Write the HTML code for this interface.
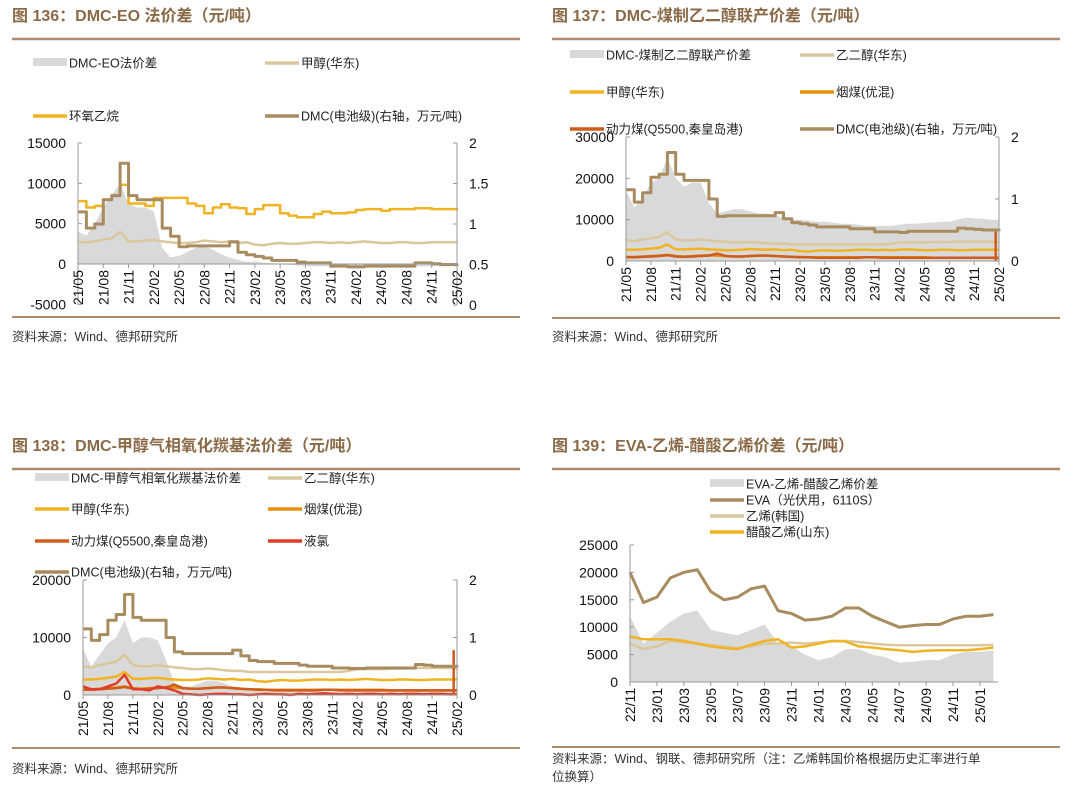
<!DOCTYPE html>
<html><head><meta charset="utf-8"><style>
body{margin:0;background:#fff}
svg{display:block}
text{font-family:"Liberation Sans","Noto Sans CJK SC",sans-serif}
.t{font-size:16px;font-weight:bold;fill:#8b6a48}
.lg{font-size:12.5px;fill:#222}
.tk{font-size:14px;fill:#111}
.src{font-size:12.5px;fill:#333}
</style></head><body>
<svg id="s" width="1080" height="793" viewBox="0 0 1080 793" xmlns="http://www.w3.org/2000/svg"></svg>
<script>
// ===== Data =====
const monthLabels = ["21/05","21/08","21/11","22/02","22/05","22/08","22/11","23/02","23/05","23/08","23/11","24/02","24/05","24/08","24/11","25/02"];
const evaLabels = ["22/11","23/01","23/03","23/05","23/07","23/09","23/11","24/01","24/03","24/05","24/07","24/09","24/11","25/01"];
// Chart 136 (monthly 21/05..25/02)
const c1Spread = [4000,3500,5000,7000,8500,10000,7500,7000,7000,6500,2000,800,1000,1500,2000,2200,1800,1200,800,500,300,300,200,100,0,-100,-200,-200,-300,-300,-300,-300,-300,-300,-300,-300,-300,-300,-300,-300,-300,-300,-300,-300,-300,-300];
const c1EO = [7800,7000,7200,8000,8500,9800,7500,7500,7200,8200,8200,8200,8200,7500,7200,6300,7000,7400,7000,6900,6200,6800,7300,7300,6300,6000,5800,5800,6200,6500,6300,6300,6400,6700,6800,6800,6600,6800,6800,6800,6900,6900,6800,6800,6800,6900];
const c1Methanol = [2700,2700,2800,3000,3200,4000,2800,2800,2900,3000,2800,2700,2600,2600,2700,2900,2800,2700,2800,2600,2700,2400,2300,2500,2600,2500,2500,2600,2700,2700,2600,2700,2600,2700,2800,2700,2600,2600,2700,2700,2600,2600,2700,2700,2700,2700];
const c1DMC = [1.15,0.95,1.0,1.3,1.35,1.75,1.35,1.3,1.3,1.3,0.95,0.85,0.72,0.73,0.73,0.73,0.73,0.73,0.78,0.65,0.62,0.6,0.58,0.55,0.55,0.55,0.53,0.52,0.52,0.52,0.48,0.48,0.47,0.47,0.48,0.48,0.48,0.48,0.48,0.48,0.52,0.52,0.51,0.5,0.5,0.48];
// Chart 137
const c2Spread = [17000,13000,15000,19000,20000,25000,20000,18000,19000,19000,14000,11500,12000,12500,12500,12000,11500,11500,11000,10500,10000,10000,9800,9500,9500,9300,9000,9000,8800,8500,8500,8500,8500,8800,9000,9000,9200,9300,9500,9500,10000,10500,10300,10200,10000,10000];
const c2DMC = [1.15,0.95,1.1,1.35,1.4,1.75,1.4,1.3,1.3,1.3,1.0,0.72,0.73,0.73,0.73,0.73,0.73,0.73,0.78,0.68,0.62,0.6,0.58,0.55,0.55,0.55,0.55,0.52,0.52,0.52,0.47,0.47,0.47,0.46,0.48,0.48,0.48,0.48,0.48,0.48,0.53,0.52,0.51,0.5,0.5,0.48];
const c2EG = [5000,4800,5200,5500,5800,7000,5200,5000,5000,5200,5000,4800,4700,4500,4500,4600,4500,4300,4200,4200,4000,4000,4000,4000,4000,4000,4000,4000,4000,4000,4000,4000,4200,4500,4500,4500,4500,4600,4600,4600,4700,4700,4700,4700,4700,4600];
const c2Methanol = [2700,2700,2800,3000,3200,4000,2800,2800,2900,3000,2800,2700,2600,2600,2700,2900,2800,2700,2800,2600,2700,2400,2300,2500,2600,2500,2500,2600,2700,2700,2600,2700,2600,2700,2800,2700,2600,2600,2700,2700,2600,2600,2700,2700,2700,2700];
const c2YanCoal = [1000,1000,1100,1200,1300,1500,1200,1100,1200,1300,1400,1300,1200,1100,1100,1200,1300,1300,1200,1100,1000,1000,900,900,900,900,900,900,900,900,900,900,900,900,900,900,900,800,800,800,800,800,800,800,800,800];
const c2Coal = [900,900,1000,1100,1200,1400,1100,1000,1100,1200,1300,1800,1200,1100,1100,1200,1300,1300,1200,1100,1000,900,900,800,800,800,800,800,800,900,900,800,800,800,800,800,800,800,800,800,800,800,800,800,800,800];
const c2SpikeMonth = [44.6];
const c2SpikeValue = [7500];
// Chart 138
const c3Spread = [8000,5000,7000,9000,10000,13000,9000,10000,10000,9500,6000,2000,1500,1500,2000,2500,2500,2000,1500,1200,1000,1000,800,800,700,700,600,600,600,600,600,600,600,700,700,700,800,800,800,900,900,1000,1000,1000,1000,1000];
const c3DMC = [1.15,0.95,1.05,1.3,1.4,1.75,1.35,1.3,1.3,1.3,1.0,0.75,0.72,0.72,0.72,0.72,0.72,0.72,0.78,0.68,0.6,0.58,0.58,0.55,0.55,0.55,0.52,0.5,0.5,0.5,0.47,0.47,0.46,0.46,0.47,0.47,0.47,0.47,0.47,0.47,0.53,0.52,0.5,0.5,0.5,0.48];
const c3EG = c2EG;
const c3Methanol = c2Methanol;
const c3YanCoal = c2YanCoal;
const c3Coal = c2Coal;
const c3Chlorine = [1500,1000,1000,1500,2000,3500,1000,1000,800,1500,1200,800,200,100,0,100,200,200,100,100,0,100,200,100,100,0,200,100,200,300,200,100,200,100,200,200,100,200,100,200,200,100,200,200,100,100];
const c3SpikeMonth = [44.6];
const c3SpikeValue = [7800];
// Chart 139 (monthly 22/11..25/02)
const c4Spread = [12000,7000,9000,11000,12500,13000,9500,9000,8500,9500,10500,7000,6500,5000,4000,4500,6000,6000,5000,4500,3500,3700,4000,4000,5000,5500,5500,5800];
const c4EVA = [20000,14500,15500,19000,20000,20500,16500,15000,15500,17000,17500,13000,12500,11300,11500,12000,13500,13500,12000,11000,10000,10300,10500,10500,11500,12000,12000,12300];
const c4Ethylene = [7000,6000,6500,7500,7200,7000,6800,6500,6200,6500,7000,7000,7200,7000,7200,7400,7500,7300,7000,6800,6700,6700,6700,6700,6700,6700,6700,6800];
const c4VAM = [8300,7800,7800,7800,7500,7000,6500,6200,6000,6800,7500,7800,6300,6500,7000,7500,7400,6500,6300,6000,5800,5500,5700,5800,5800,5800,6000,6300];

const NS="http://www.w3.org/2000/svg";
const S=document.getElementById('s');
function el(tag,attrs,parent){const e=document.createElementNS(NS,tag);for(const k in attrs)e.setAttribute(k,attrs[k]);(parent||S).appendChild(e);return e;}
function txt(x,y,s,cls,parent,anchor){const e=el('text',{x:x,y:y,class:cls},parent);if(anchor)e.setAttribute('text-anchor',anchor);e.textContent=s;return e;}
const GRAY='#d9d9d9',BROWN='#a88c5f',BEIGE='#d9c89e',YEL='#f0b323',ORG='#e8900c',RED2='#cf5b1c',RED='#e03c28';

function panel(name,x0,y0,title){
  const g=el('g',{});
  
  
  const t=txt(x0,y0,title,'t',g);
  
  
  const r=el('line',{x1:x0,x2:x0+508,y1:y0+18,y2:y0+18,stroke:'#b08a6a','stroke-width':2.5},g);
  
  
  return g;
}
function legend(g,x,y,label,color,isArea,w){
  const lg=el('g',{},g);
  
  
  w=w||34;
  if(isArea) el('rect',{x:x,y:y-5,width:w,height:8,fill:GRAY},lg);
  else el('line',{x1:x,x2:x+w,y1:y,y2:y,stroke:color,'stroke-width':3.5},lg);
  txt(x+w+2,y+4.5,label,'lg',lg);
}
function axes(g,L,R,T,B,leftTicks,rightTicks,YL,YR,xLabels,xTickX,zeroY){
  const ax=el('g',{},g);
  
  
  el('line',{x1:L,x2:L,y1:T,y2:B,stroke:'#999'},ax);
  if(R) el('line',{x1:R,x2:R,y1:T,y2:B,stroke:'#999'},ax);
  leftTicks.forEach(v=>{const y=YL(v);el('line',{x1:L,x2:L+4,y1:y,y2:y,stroke:'#999'},ax);txt(L-12,y+5,String(v),'tk',ax,'end');});
  if(R) rightTicks.forEach(v=>{const y=YR(v);el('line',{x1:R-4,x2:R,y1:y,y2:y,stroke:'#999'},ax);txt(R+12,y+5,String(v),'tk',ax,'start');});
  el('line',{x1:L,x2:R||L,y1:zeroY,y2:zeroY,stroke:'#999'},ax);
  xLabels.forEach((s,i)=>{const x=xTickX(i);el('line',{x1:x,x2:x,y1:zeroY,y2:zeroY+4,stroke:'#999'},ax);
    const tt=txt(0,0,s,'tk',ax,'end');tt.setAttribute('transform','translate('+(x+5)+','+(zeroY+6)+') rotate(-90)');});
}
function line(g,name,data,X,Y,color,w,step){
  let pts=[];
  data.forEach((v,i)=>{
    if(step&&i>0){pts.push(X(i).toFixed(1)+','+Y(data[i-1]).toFixed(1));}
    pts.push(X(i).toFixed(1)+','+Y(v).toFixed(1));
  });
  const p=el('polyline',{points:pts.join(' '),fill:'none',stroke:color,'stroke-width':w||2.5,'stroke-linejoin':'round'},g);
  
  
}
function area(g,name,data,X,Y){
  let pts=X(0)+','+Y(0)+' '+data.map((v,i)=>X(i).toFixed(1)+','+Y(v).toFixed(1)).join(' ')+' '+X(data.length-1)+','+Y(0);
  const p=el('polygon',{points:pts,fill:GRAY},g);
  
  
}
function spike(g,name,months,vals,X,Y,color){
  months.forEach((m,i)=>{const l=el('line',{x1:X(m),x2:X(m),y1:Y(0),y2:Y(vals[i]),stroke:color,'stroke-width':2.5},g);
    
    });
}
function source(g,x,y,s){const t=txt(x,y,s,'src',g);}
function rule(g,x,y){const r=el('line',{x1:x,x2:x+508,y1:y,y2:y,stroke:'#b08a6a','stroke-width':2},g);}

// ===== Chart 136 =====
(function(){
  const g=panel('chart-136',12,21,'图 136：DMC-EO 法价差（元/吨）');
  const L=78,R=457,X=i=>L+i*(R-L)/45,YL=v=>264-v*(121/15000),YR=v=>305-v*81;
  legend(g,33,63,'DMC-EO法价差',null,true);
  legend(g,265,63,'甲醇(华东)',BEIGE);
  legend(g,33,116,'环氧乙烷',YEL);
  legend(g,265,116,'DMC(电池级)(右轴，万元/吨)',BROWN);
  area(g,'dmc-eo-spread-area',c1Spread,X,YL);
  line(g,'ethylene-oxide-line',c1EO,X,YL,YEL,2.5,true);
  line(g,'methanol-line',c1Methanol,X,YL,BEIGE);
  line(g,'dmc-line',c1DMC,X,YR,BROWN,3,true);
  axes(g,L,R,143,305,[15000,10000,5000,0,-5000],[2,1.5,1,0.5,0],YL,YR,monthLabels,i=>X(i*3),264);
  rule(g,12,317);
  source(g,12,341,'资料来源：Wind、德邦研究所');
})();
// ===== Chart 137 =====
(function(){
  const g=panel('chart-137',552,21,'图 137：DMC-煤制乙二醇联产价差（元/吨）');
  const L=626,R=999,X=i=>L+i*(R-L)/45,YL=v=>261-v*(124/30000),YR=v=>261-v*62;
  legend(g,570,55,'DMC-煤制乙二醇联产价差',null,true);
  legend(g,800,55,'乙二醇(华东)',BEIGE);
  legend(g,570,92,'甲醇(华东)',YEL);
  legend(g,800,92,'烟煤(优混)',ORG);
  legend(g,570,129,'动力煤(Q5500,秦皇岛港)',RED2);
  legend(g,800,129,'DMC(电池级)(右轴，万元/吨)',BROWN);
  area(g,'spread-area',c2Spread,X,YL);
  line(g,'ethylene-glycol-line',c2EG,X,YL,BEIGE);
  line(g,'methanol-line',c2Methanol,X,YL,YEL);
  line(g,'yan-coal-line',c2YanCoal,X,YL,ORG);
  line(g,'thermal-coal-line',c2Coal,X,YL,RED2);
  spike(g,'thermal-coal-spike',c2SpikeMonth,c2SpikeValue,X,YL,RED2);
  line(g,'dmc-line',c2DMC,X,YR,BROWN,3,true);
  axes(g,L,R,137,261,[30000,20000,10000,0],[2,1,0],YL,YR,monthLabels,i=>X(i*3),261);
  rule(g,552,318);
  source(g,552,341,'资料来源：Wind、德邦研究所');
})();
// ===== Chart 138 =====
(function(){
  const g=panel('chart-138',12,451,'图 138：DMC-甲醇气相氧化羰基法价差（元/吨）');
  const L=83,R=457,X=i=>L+i*(R-L)/45,YL=v=>695-v*(115/20000),YR=v=>695-v*57.5;
  legend(g,35,478,'DMC-甲醇气相氧化羰基法价差',null,true);
  legend(g,268,478,'乙二醇(华东)',BEIGE);
  legend(g,35,509,'甲醇(华东)',YEL);
  legend(g,268,509,'烟煤(优混)',ORG);
  legend(g,35,541,'动力煤(Q5500,秦皇岛港)',RED2);
  legend(g,268,541,'液氯',RED);
  legend(g,35,572,'DMC(电池级)(右轴，万元/吨)',BROWN);
  area(g,'spread-area',c3Spread,X,YL);
  line(g,'ethylene-glycol-line',c3EG,X,YL,BEIGE);
  line(g,'methanol-line',c3Methanol,X,YL,YEL);
  line(g,'yan-coal-line',c3YanCoal,X,YL,ORG);
  line(g,'thermal-coal-line',c3Coal,X,YL,RED2);
  line(g,'liquid-chlorine-line',c3Chlorine,X,YL,RED);
  spike(g,'thermal-coal-spike',c3SpikeMonth,c3SpikeValue,X,YL,RED2);
  line(g,'dmc-line',c3DMC,X,YR,BROWN,3,true);
  axes(g,L,R,580,695,[20000,10000,0],[2,1,0],YL,YR,monthLabels,i=>X(i*3),695);
  rule(g,12,748);
  source(g,12,773,'资料来源：Wind、德邦研究所');
})();
// ===== Chart 139 =====
(function(){
  const g=panel('chart-139',552,451,'图 139：EVA-乙烯-醋酸乙烯价差（元/吨）');
  const L=630,R=998,X=i=>L+i*13.46,YL=v=>682-v*(137/25000);
  legend(g,710,484,'EVA-乙烯-醋酸乙烯价差',null,true);
  legend(g,710,500,'EVA（光伏用，6110S）',BROWN);
  legend(g,710,516,'乙烯(韩国)',BEIGE);
  legend(g,710,532,'醋酸乙烯(山东)',YEL);
  area(g,'spread-area',c4Spread,X,YL);
  line(g,'ethylene-korea-line',c4Ethylene,X,YL,BEIGE);
  line(g,'vinyl-acetate-line',c4VAM,X,YL,YEL);
  line(g,'eva-line',c4EVA,X,YL,BROWN,3);
  axes(g,L,null,545,682,[25000,20000,15000,10000,5000,0],[],YL,null,evaLabels,i=>X(i*2),682);
  el('line',{x1:L,x2:R,y1:682,y2:682,stroke:'#999'},g);
  rule(g,552,747);
  source(g,552,763,'资料来源：Wind、钢联、德邦研究所（注：乙烯韩国价格根据历史汇率进行单');
  source(g,552,781,'位换算）');
})();
</script>
</body></html>
